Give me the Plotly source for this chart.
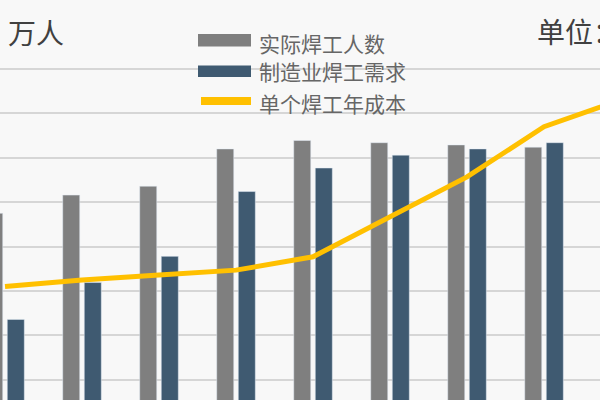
import plotly.graph_objects as go

# categories (x labels are cut off in the source picture)
years = ['2011', '2012', '2013', '2014', '2015', '2016', '2017', '2018', '2019']

# 万人
actual_welders = [47.5, 51.6, 53.6, 62.0, 63.9, 63.4, 62.9, 62.4, 60.2]
welder_demand = [23.6, 31.9, 37.8, 52.4, 57.7, 60.6, 62.0, 63.4, 64.0]
# 单位：万元
yearly_cost = [3.10, 3.25, 3.36, 3.47, 3.77, 4.67, 5.57, 6.70, 7.31]

names = ['实际焊工人数', '制造业焊工需求', '单个焊工年成本']
colors = ['#7f7f7f', '#3f5a71', '#ffc000']
font = 'Noto Sans CJK SC'

fig = go.Figure()
fig.add_trace(go.Bar(x=years, y=actual_welders, name=names[0],
                     marker_color=colors[0], showlegend=False))
fig.add_trace(go.Bar(x=years, y=welder_demand, name=names[1],
                     marker_color=colors[1], showlegend=False))
fig.add_trace(go.Scatter(x=years, y=yearly_cost, name=names[2], yaxis='y2',
                         mode='lines', line=dict(color=colors[2], width=5),
                         showlegend=False))

# hand made legend, the source uses wide swatches
shapes = [
    dict(type='rect', xref='paper', yref='paper', x0=198/600, x1=251/600,
         y0=1-46.5/400, y1=1-34/400, fillcolor=colors[0], line_width=0),
    dict(type='rect', xref='paper', yref='paper', x0=198/600, x1=251/600,
         y0=1-77/400, y1=1-65.5/400, fillcolor=colors[1], line_width=0),
    dict(type='line', xref='paper', yref='paper', x0=201/600, x1=251/600,
         y0=1-101/400, y1=1-101/400, line=dict(color=colors[2], width=8)),
]
annotations = []
for name, yc in zip(names, [43, 71, 103]):
    annotations.append(dict(text=name, xref='paper', yref='paper', x=257/600,
                            y=1-yc/400, xanchor='left', yanchor='middle',
                            showarrow=False,
                            font=dict(family=font, size=21, color='#666666')))
annotations.append(dict(text='万人', xref='paper', yref='paper', x=6/600,
                        y=1-32/400, xanchor='left', yanchor='middle',
                        showarrow=False,
                        font=dict(family=font, size=28, color='#404040')))
annotations.append(dict(text='单位：万元', xref='paper', yref='paper', x=535/600,
                        y=1-31/400, xanchor='left', yanchor='middle',
                        showarrow=False,
                        font=dict(family=font, size=28, color='#404040')))

fig.update_layout(
    width=600, height=400,
    margin=dict(l=0, r=0, t=0, b=0),
    paper_bgcolor='#f8f8f8', plot_bgcolor='#f8f8f8',
    barmode='group', bargap=0.44, bargroupgap=0.21,
    showlegend=False,
    xaxis=dict(type='category', range=[-0.065, 7.727], showgrid=False,
               showticklabels=False, zeroline=False, showline=False, ticks=''),
    yaxis=dict(range=[5.45, 95.54], tickvals=[10, 20, 30, 40, 50, 60, 70, 80],
               showgrid=True, gridcolor='#d6d6d6', gridwidth=1.5,
               zeroline=False, showticklabels=False, showline=False, ticks=''),
    yaxis2=dict(range=[0.545, 9.554], overlaying='y', side='right',
                showgrid=False, zeroline=False, showticklabels=False,
                showline=False, ticks=''),
    shapes=shapes,
    annotations=annotations,
)

# page margin would shift the figure by 8px
fig.write_html("out.html", config={'displayModeBar': False},
               post_script="document.body.style.margin='0';"
                           "document.body.style.background='#f8f8f8';")
